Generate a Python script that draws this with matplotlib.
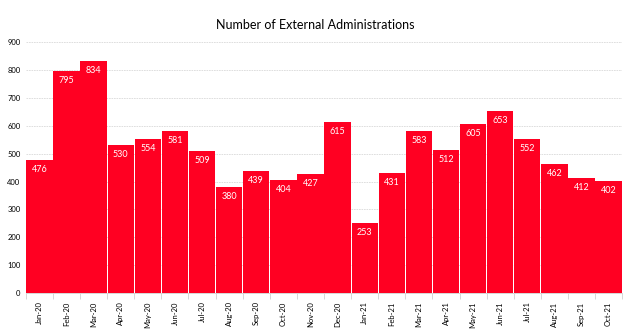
import matplotlib
matplotlib.use("Agg")
import matplotlib.pyplot as plt

months = ["Jan-20","Feb-20","Mar-20","Apr-20","May-20","Jun-20","Jul-20","Aug-20","Sep-20","Oct-20","Nov-20","Dec-20",
          "Jan-21","Feb-21","Mar-21","Apr-21","May-21","Jun-21","Jul-21","Aug-21","Sep-21","Oct-21"]
values = [476,795,834,530,554,581,509,380,439,404,427,615,253,431,583,512,605,653,552,462,412,402]

plt.rcParams['font.family'] = ['Lato', 'DejaVu Sans']
fig = plt.figure(figsize=(6.31, 3.29), dpi=100)
ax = fig.add_axes([0.041, 0.109, 0.945, 0.763])
x = list(range(len(months)))
bars = ax.bar(x, values, width=0.97, color="#FF0022", zorder=2)
for xi, v in zip(x, values):
    ax.text(xi, v - 18, str(v), ha="center", va="top", color="white", fontsize=6.5, zorder=3)
ax.set_xlim(-0.5, len(months) - 0.5)
ax.set_ylim(0, 900)
ax.set_yticks(range(0, 901, 100))
ax.tick_params(axis='y', length=0, labelsize=5.5, pad=4)
ax.set_xticks(x)
ax.set_xticklabels(months, rotation=90, fontsize=5.5)
ax.tick_params(axis='x', length=0, pad=6)
ax.set_xticks([i - 0.5 for i in range(len(months) + 1)], minor=True)
ax.tick_params(axis='x', which='minor', length=4, color="#d0d0d0", width=0.6)
ax.yaxis.grid(True, linestyle=(0, (2, 1)), color="#d9d9d9", linewidth=0.6, zorder=0)
for s in ["top", "right", "left"]:
    ax.spines[s].set_visible(False)
ax.spines["bottom"].set_color("#d0d0d0")
ax.spines["bottom"].set_linewidth(0.6)
fig.text(0.5, 0.925, "Number of External Administrations", ha="center", va="center", fontsize=9)
fig.savefig("out.png", dpi=100)
